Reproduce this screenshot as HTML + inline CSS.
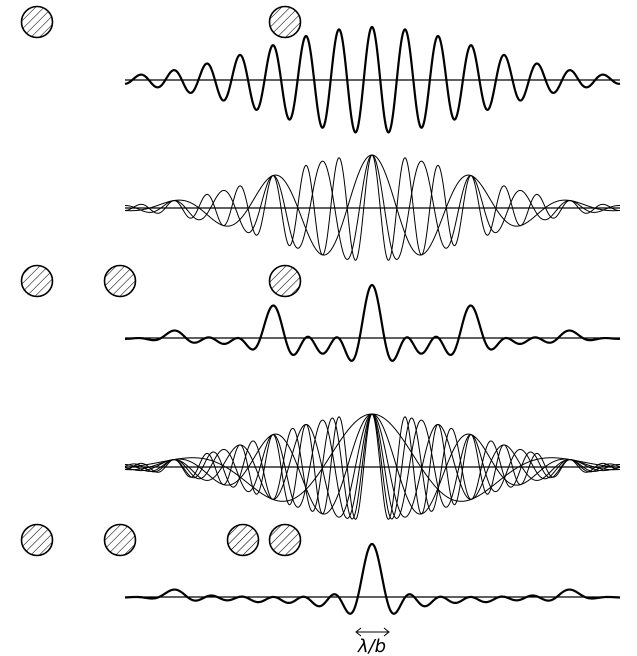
<!DOCTYPE html>
<html><head><meta charset="utf-8"><style>
html,body{margin:0;padding:0;background:#fff;}
svg{display:block;}
</style></head><body>
<svg id="s" width="637" height="656" viewBox="0 0 637 656" xmlns="http://www.w3.org/2000/svg">
<defs>
<pattern id="h" patternUnits="userSpaceOnUse" width="6" height="6" patternTransform="rotate(45)">
<line x1="0" y1="0" x2="0" y2="6" stroke="#000" stroke-width="1.1"/>
</pattern>
</defs>
<g id="g"></g>
<text x="372" y="652" font-family="DejaVu Sans, sans-serif" font-style="italic" font-size="18" text-anchor="middle">λ/b</text>
<line x1="357" y1="632" x2="388" y2="632" stroke="#000" stroke-width="1"/>
<path d="M361,628 L356,632 L361,636 M384,628 L389,632 L384,636" fill="none" stroke="#000" stroke-width="1"/>
</svg>
<script>
var g=document.getElementById('g'),h='';
var C=372,X0=125,X1=620,K=8200,S=100,A=53;
function env(x,s){var d=x-C;s=s||S;return Math.exp(-d*d/(2*s*s));}
function wave(b,x,s){return Math.cos(2*Math.PI*(x-C)*b/K)*env(x,s);}
function path(f,y0,w){var d='';for(var x=X0;x<=X1;x+=0.5){d+=(x==X0?'M':'L')+x.toFixed(1)+','+(y0-A*f(x)).toFixed(2);}
h+='<path d="'+d+'" fill="none" stroke="#000" stroke-width="'+w+'"/>';}
function axis(y){h+='<line x1="'+X0+'" y1="'+y+'" x2="'+X1+'" y2="'+y+'" stroke="#000" stroke-width="1.2"/>';}
function circ(x,y){h+='<circle cx="'+x+'" cy="'+y+'" r="15.5" fill="url(#h)" stroke="#000" stroke-width="1.6"/>';}
function base(p){var b=[];for(var i=0;i<p.length;i++)for(var j=i+1;j<p.length;j++)b.push(p[j]-p[i]);return b;}
circ(37,22);circ(285,22);
axis(80);path(function(x){return wave(248,x,108)},80,2.2);
var b3=base([37,120,285]);
axis(208);b3.forEach(function(b){path(function(x){return wave(b,x)},208,1);});
circ(37,281);circ(120,281);circ(285,281);
axis(338);path(function(x){var s=0;b3.forEach(function(b){s+=wave(b,x)});return s/3;},338,2.2);
var b4=base([37,120,243,285]);
axis(467);b4.forEach(function(b){path(function(x){return wave(b,x)},467,1);});
circ(37,540);circ(120,540);circ(243,540);circ(285,540);
axis(597);path(function(x){var s=0;b4.forEach(function(b){s+=wave(b,x)});return s/6;},597,2.2);
g.innerHTML=h;
</script>
</body></html>
